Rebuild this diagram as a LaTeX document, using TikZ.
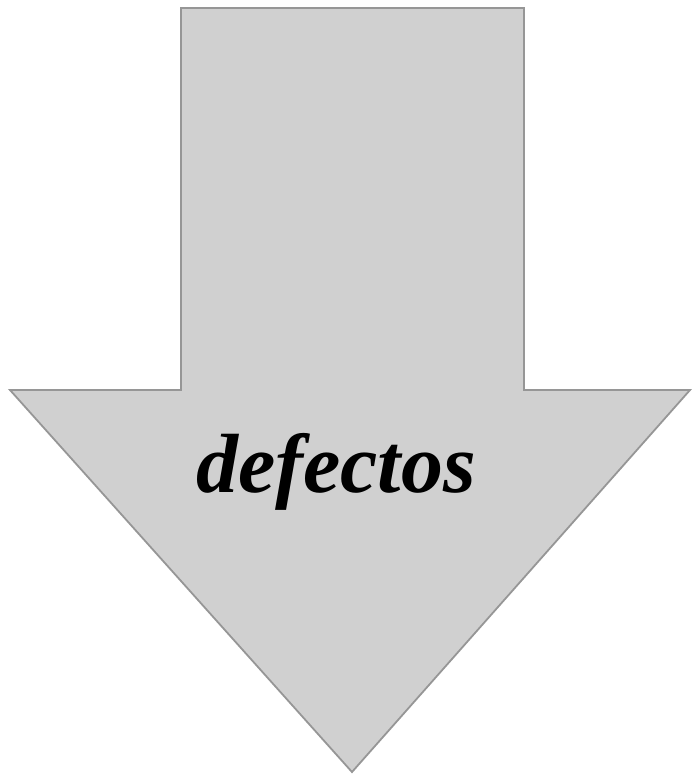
\documentclass[tikz,border=0pt]{standalone}
\usepackage{fontspec}
\setmainfont{Liberation Serif}
\tikzset{
  arrowbody/.style={fill={rgb,255:red,208;green,208;blue,208}, draw={rgb,255:red,150;green,150;blue,150}, line width=1.8pt, line join=miter},
  arrowlabel/.style={font=\fontsize{84}{84}\selectfont\bfseries\itshape, anchor=base}
}
\begin{document}
\begin{tikzpicture}[x=1pt,y=-1pt]
  \useasboundingbox (0,0) rectangle (691,774);
  % flecha hacia abajo
  \draw[arrowbody] (181,8) -- (524,8) -- (524,390) -- (690,390) -- (352,772)
    -- (10,390) -- (181,390) -- cycle;
  % texto
  \node[arrowlabel] (label) at (336,492) {defectos};
\end{tikzpicture}
\end{document}
